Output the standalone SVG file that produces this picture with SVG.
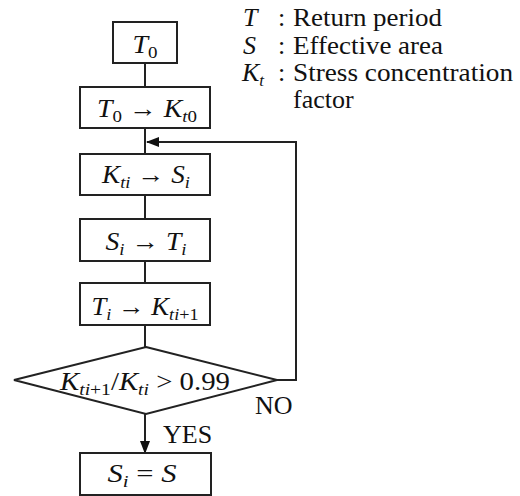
<svg xmlns="http://www.w3.org/2000/svg" width="520" height="496" viewBox="0 0 520 496">
<defs>
<marker id="ah" markerWidth="13" markerHeight="10" refX="12" refY="5" orient="auto" markerUnits="userSpaceOnUse">
<path d="M0,0 L13,5 L0,10 Z" fill="#111"/>
</marker>
<style>
.box{fill:#fff;stroke:#222;stroke-width:2}
.ln{fill:none;stroke:#222;stroke-width:2}
text{font-family:"Liberation Serif","Times New Roman","DejaVu Serif",serif;font-size:25px;fill:#111}
.c{text-anchor:middle}
.i{font-style:italic}
.s{font-size:17px}
.lg{font-size:26px}
.lb{font-size:26px}
</style>
</defs>
<rect width="520" height="496" fill="#fff"/>
<g id="connectors">
<line class="ln" x1="145" y1="63" x2="145" y2="87"/>
<line class="ln" x1="145" y1="128" x2="145" y2="154"/>
<line class="ln" x1="145" y1="195" x2="145" y2="219"/>
<line class="ln" x1="145" y1="261" x2="145" y2="283"/>
<line class="ln" x1="145" y1="325" x2="145" y2="347"/>
<line class="ln" x1="145" y1="414" x2="145" y2="453" marker-end="url(#ah)"/>
<polyline class="ln" points="277,380 296,380 296,142 147,142" marker-end="url(#ah)"/>
</g>
<g id="n1">
<rect class="box" x="113" y="22" width="64" height="41"/>
<text class="c" x="145" y="53" textLength="25" lengthAdjust="spacingAndGlyphs"><tspan class="i">T</tspan><tspan class="s" dy="5">0</tspan></text>
</g>
<g id="n2">
<rect class="box" x="80" y="87" width="130" height="41"/>
<text class="c" x="147" y="117" textLength="100" lengthAdjust="spacingAndGlyphs"><tspan class="i">T</tspan><tspan class="s" dy="5">0</tspan><tspan dy="-5"> → </tspan><tspan class="i">K</tspan><tspan class="s" dy="5"><tspan class="i">t</tspan>0</tspan></text>
</g>
<g id="n3">
<rect class="box" x="80" y="154" width="130" height="41"/>
<text class="c" x="146" y="183" textLength="88" lengthAdjust="spacingAndGlyphs"><tspan class="i">K</tspan><tspan class="s i" dy="5">ti</tspan><tspan dy="-5"> → </tspan><tspan class="i">S</tspan><tspan class="s i" dy="5">i</tspan></text>
</g>
<g id="n4">
<rect class="box" x="80" y="219" width="130" height="42"/>
<text class="c" x="146" y="250" textLength="81" lengthAdjust="spacingAndGlyphs"><tspan class="i">S</tspan><tspan class="s i" dy="5">i</tspan><tspan dy="-5"> → </tspan><tspan class="i">T</tspan><tspan class="s i" dy="5">i</tspan></text>
</g>
<g id="n5">
<rect class="box" x="80" y="283" width="130" height="42"/>
<text class="c" x="145" y="315" textLength="107" lengthAdjust="spacingAndGlyphs"><tspan class="i">T</tspan><tspan class="s i" dy="5">i</tspan><tspan dy="-5"> → </tspan><tspan class="i">K</tspan><tspan class="s" dy="5"><tspan class="i">ti</tspan>+1</tspan></text>
</g>
<g id="n6">
<polygon class="box" points="146,347 277,380 146,414 14,380"/>
<text class="c" x="145" y="390" textLength="170" lengthAdjust="spacingAndGlyphs"><tspan class="i">K</tspan><tspan class="s" dy="5"><tspan class="i">ti</tspan>+1</tspan><tspan dy="-5">/</tspan><tspan class="i">K</tspan><tspan class="s i" dy="5">ti</tspan><tspan dy="-5"> &gt; 0.99</tspan></text>
</g>
<g id="n7">
<rect class="box" x="80" y="453" width="131" height="42"/>
<text class="c" x="142" y="482" textLength="69" lengthAdjust="spacingAndGlyphs"><tspan class="i">S</tspan><tspan class="s i" dy="5">i</tspan><tspan dy="-5"> = </tspan><tspan class="i">S</tspan></text>
</g>
<g id="labels">
<text class="lb" x="255" y="414">NO</text>
<text class="lb" x="163" y="443">YES</text>
</g>
<g id="legend">
<text class="lg i" x="243" y="26">T</text>
<text class="lg" x="278" y="26">:</text>
<text class="lg" x="293" y="26" textLength="149" lengthAdjust="spacingAndGlyphs">Return period</text>
<text class="lg i" x="243" y="54">S</text>
<text class="lg" x="278" y="54">:</text>
<text class="lg" x="293" y="54" textLength="150" lengthAdjust="spacingAndGlyphs">Effective area</text>
<text class="lg" x="242" y="81"><tspan class="i">K</tspan><tspan class="i" font-size="17" dy="5">t</tspan></text>
<text class="lg" x="278" y="81">:</text>
<text class="lg" x="293" y="81" textLength="220" lengthAdjust="spacingAndGlyphs">Stress concentration</text>
<text class="lg" x="293" y="108">factor</text>
</g>
</svg>
